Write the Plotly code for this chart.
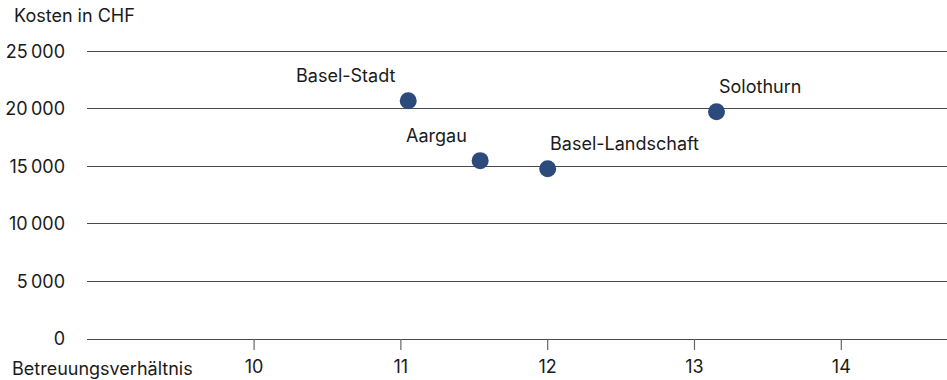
import plotly.graph_objects as go

cantons = ["Basel-Stadt", "Aargau", "Basel-Landschaft", "Solothurn"]
ratio = [11.05, 11.54, 12.0, 13.15]
costs = [20700, 15500, 14800, 19750]
label_side = ["left", "left", "right", "right"]

y_tickvals = [0, 5000, 10000, 15000, 20000, 25000]
y_ticktext = ["0", "5\u2009000", "10\u2009000", "15\u2009000", "20\u2009000", "25\u2009000"]
x_tickvals = [10, 11, 12, 13, 14]
x_ticktext = ["10", "11", "12", "13", "14"]

FONT = "Inter"
FS = 18
DOT = "#2c4a7c"
TXT = "#1a1a1a"
GRID = "#4a4a4a"
TICK = "#666666"

fig = go.Figure()
fig.add_trace(go.Scatter(
    x=ratio, y=costs, mode="markers",
    marker=dict(size=17, color=DOT, line=dict(width=0)),
    hoverinfo="skip", showlegend=False,
))

for name, xv, yv, side in zip(cantons, ratio, costs, label_side):
    fig.add_annotation(
        x=xv, y=yv, text=name, showarrow=False,
        xanchor="right" if side == "left" else "left",
        yanchor="middle",
        xshift=-11 if side == "left" else 0,
        yshift=25,
        font=dict(family=FONT, size=FS, color=TXT),
    )

# x-axis tick marks, placed at the tick values on the x scale
for v in x_tickvals:
    fig.add_shape(
        type="line", xref="x", yref="paper",
        x0=v, x1=v, ysizemode="pixel", yanchor=0, y0=0, y1=-11,
        line=dict(color=TICK, width=1.2), layer="above",
    )

fig.add_annotation(
    x=0, xref="paper", xanchor="left", xshift=-75,
    y=1, yref="paper", yanchor="middle", yshift=34,
    text="Kosten in CHF", showarrow=False,
    font=dict(family=FONT, size=FS, color=TXT),
)
fig.add_annotation(
    x=0, xref="paper", xanchor="left", xshift=-77,
    y=0, yref="paper", yanchor="middle", yshift=-29,
    text="Betreuungsverhältnis", showarrow=False,
    font=dict(family=FONT, size=FS, color=TXT),
)

fig.update_layout(
    width=947, height=380,
    margin=dict(l=87, r=0, t=49, b=41),
    paper_bgcolor="white", plot_bgcolor="white",
    font=dict(family=FONT, size=FS, color=TXT),
)
fig.update_xaxes(
    range=[8.862, 14.72],
    tickmode="array", tickvals=x_tickvals, ticktext=x_ticktext,
    showgrid=False, zeroline=False,
    showline=True, linecolor=GRID, linewidth=1,
    ticks="outside", ticklen=11, tickcolor="rgba(0,0,0,0)", tickwidth=1,
    tickfont=dict(family=FONT, size=FS, color=TXT),
)
fig.update_yaxes(
    range=[0, 25200],
    tickmode="array", tickvals=y_tickvals, ticktext=y_ticktext,
    showgrid=True, gridcolor=GRID, gridwidth=1,
    zeroline=False, showline=False, ticks="",
    ticklabelstandoff=21,
    tickfont=dict(family=FONT, size=FS, color=TXT),
)

fig.write_html(
    "out.html",
    config={"displayModeBar": False},
    post_script="document.body.style.margin='0';document.body.style.padding='0';",
)
